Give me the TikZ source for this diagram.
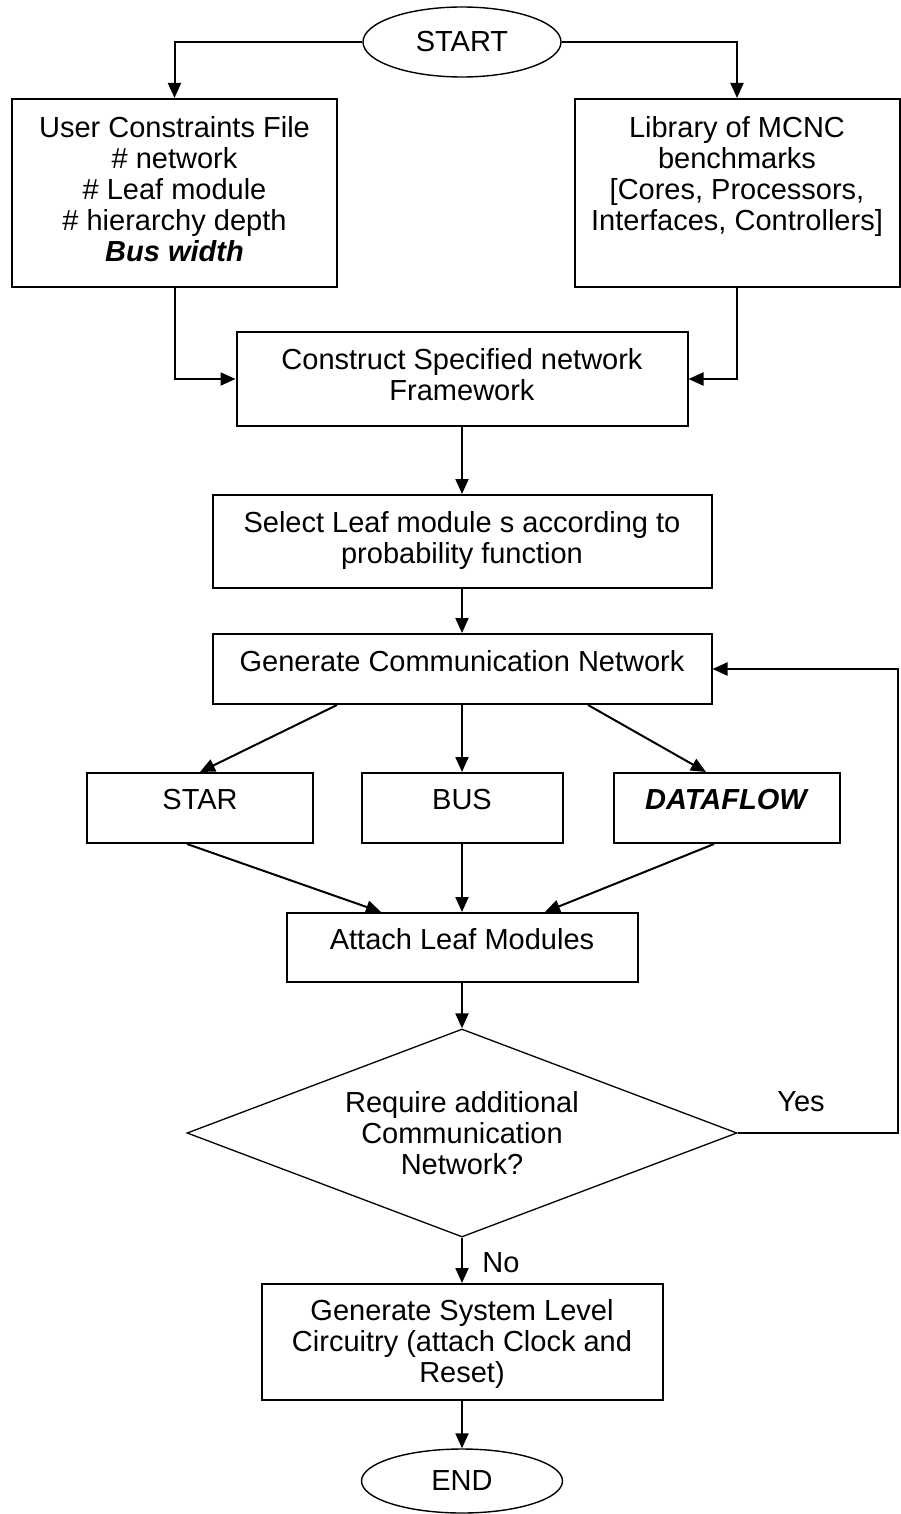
\documentclass[tikz,border=0pt]{standalone}
\usepackage{fontspec}
\setmainfont{Liberation Sans}
\usetikzlibrary{shapes.geometric,arrows.meta}

\begin{document}
\begin{tikzpicture}[x=1pt,y=-1pt,
  every node/.style={font=\fontsize{29}{31}\selectfont, align=center},
  box/.style={draw, rectangle, line width=2pt, inner sep=0pt, text depth=9pt},
  onebox/.style={box, text depth=17pt},
  term/.style={draw, ellipse, line width=1.4pt, inner sep=0pt},
  decide/.style={draw, diamond, line width=1.3pt, inner sep=0pt, shape aspect=2.64},
  lbl/.style={inner sep=0pt},
  arr/.style={line width=2pt, -{Triangle[length=15pt,width=13pt]}}]
\useasboundingbox (0,0) rectangle (900,1514);

% Start and the two inputs
\node[term, minimum width=198pt, minimum height=70pt] (start) at (462,42) {START};
\node[box, minimum width=325pt, minimum height=188pt] (ucf) at (174.5,193) {User Constraints File\\ \# network\\ \# Leaf module\\ \# hierarchy depth\\ \textbf{\textit{Bus width}}};
\node[box, minimum width=325pt, minimum height=188pt] (lib) at (737,193) {Library of MCNC\\ benchmarks\\ {[}Cores, Processors,\\ Interfaces, Controllers{]}\\ \mbox{}};

% Main steps
\node[box, minimum width=451pt, minimum height=94pt] (construct) at (462,379) {Construct Specified network\\ Framework};
\node[box, minimum width=499pt, minimum height=93pt] (select) at (462,541.5) {Select Leaf module s according to\\ probability function};
\node[onebox, minimum width=499pt, minimum height=70pt] (generate) at (462,669) {Generate Communication Network};

% Network kinds
\node[onebox, minimum width=226pt, minimum height=70pt] (star) at (200,808) {STAR};
\node[onebox, minimum width=201pt, minimum height=70pt] (bus) at (462,808) {BUS};
\node[onebox, minimum width=226pt, minimum height=70pt] (dataflow) at (727,808) {\textbf{\textit{DATAFLOW}}};

\node[onebox, minimum width=351pt, minimum height=69pt] (attach) at (462,947.5) {Attach Leaf Modules};
\node[decide, minimum width=550pt, minimum height=208pt] (dec) at (462,1133) {Require additional\\ Communication\\ Network?};
\node[box, text depth=2pt, minimum width=401pt, minimum height=116pt] (final) at (462,1342) {Generate System Level\\ Circuitry (attach Clock and\\ Reset)};
\node[term, minimum width=201pt, minimum height=64pt] (end) at (462,1481) {END};

% Branch labels
\node[lbl] (yes) at (801,1102) {Yes};
\node[lbl] (no) at (501,1263) {No};

% Connectors
\draw[arr] (start.west) -| (ucf.north);
\draw[arr] (start.east) -| (lib.north);
\draw[arr] (ucf.south) |- (construct.west);
\draw[arr] (lib.south) |- (construct.east);
\draw[arr] (construct.south) -- (select.north);
\draw[arr] (select.south) -- (generate.north);
\draw[arr] ([xshift=-125pt]generate.south) -- (star.north);
\draw[arr] (generate.south) -- (bus.north);
\draw[arr] ([xshift=126pt]generate.south) -- ([xshift=-21pt]dataflow.north);
\draw[arr] ([xshift=-13pt]star.south) -- ([xshift=-81pt]attach.north);
\draw[arr] (bus.south) -- (attach.north);
\draw[arr] ([xshift=-13pt]dataflow.south) -- ([xshift=83pt]attach.north);
\draw[arr] (attach.south) -- (dec.north);
\draw[arr] (dec.east) -- ++(160,0) |- (generate.east);
\draw[arr] (dec.south) -- (final.north);
\draw[arr] (final.south) -- (end.north);
\end{tikzpicture}
\end{document}
